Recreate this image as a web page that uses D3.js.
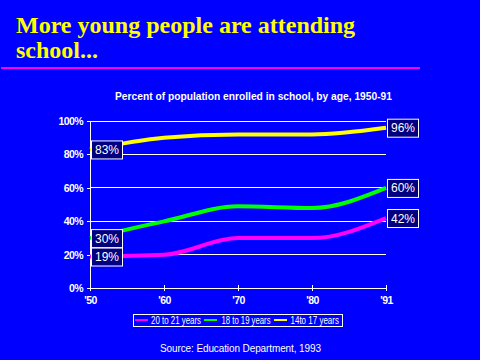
<!DOCTYPE html>
<html><head><meta charset="utf-8">
<script src="https://cdn.jsdelivr.net/npm/d3@7"></script>
<style>html,body{margin:0;padding:0;background:#0000FF;}svg{display:block;}</style>
</head><body>
<svg id="c" width="480" height="360"></svg>
<script>
const years = ["'50", "'60", "'70", "'80", "'91"];
const seriesNames = ["20 to 21 years", "18 to 19 years", "14to 17 years"];
const age20to21 = [19, 20, 30, 30, 42];
const age18to19 = [30, 40, 49, 48, 60];
const age14to17 = [83, 90, 92, 92, 96];
const seriesColors = ["#FF00FF", "#00FF00", "#FFFF00"];
const yTicks = [0, 20, 40, 60, 80, 100];

const series = [age20to21, age18to19, age14to17];
const svg = d3.select("#c");
svg.append("rect").attr("width", 480).attr("height", 360).attr("fill", "#0000FF");

// Title
const title = svg.append("text").attr("fill", "#FFFF00")
  .attr("font-family", "'Liberation Serif','Times New Roman',serif")
  .attr("font-weight", "bold").attr("font-size", 24);
title.append("tspan").attr("x", 16).attr("y", 33).text("More young people are attending");
title.append("tspan").attr("x", 16).attr("y", 58).text("school...");
svg.append("rect").attr("x", 1).attr("y", 67).attr("width", 419).attr("height", 2).attr("fill", "#FF00FF");

// Subtitle
svg.append("text").attr("x", 115).attr("y", 100).attr("fill", "#fff")
  .attr("font-family", "'Liberation Sans',Arial,sans-serif").attr("font-weight", "bold")
  .attr("font-size", 10).attr("textLength", 277).attr("lengthAdjust", "spacingAndGlyphs")
  .text("Percent of population enrolled in school, by age, 1950-91");

const x = d3.scalePoint().domain(years).range([90, 386]);
const y = d3.scaleLinear().domain([0, 100]).range([288.3, 121]);

// gridlines
svg.append("g").selectAll("line").data(yTicks.filter(d => d > 0)).join("line")
  .attr("x1", 90).attr("x2", 386).attr("y1", d => y(d)).attr("y2", d => y(d))
  .attr("stroke", "#fff").attr("stroke-width", 1).attr("shape-rendering", "crispEdges");

// y axis
const yAxis = svg.append("g").attr("transform", "translate(90,0)")
  .call(d3.axisLeft(y).tickValues(yTicks).tickFormat(d => d + "%").tickSize(3).tickPadding(4));
// x axis
const xAxis = svg.append("g").attr("transform", "translate(0,288)")
  .call(d3.axisBottom(x).tickSize(3).tickPadding(6));
[yAxis, xAxis].forEach(a => {
  a.select(".domain").attr("stroke", "#fff").attr("shape-rendering", "crispEdges");
  a.selectAll(".tick line").attr("stroke", "#fff").attr("shape-rendering", "crispEdges");
  a.selectAll("text").attr("fill", "#fff").attr("font-family", "'Liberation Sans',Arial,sans-serif")
    .attr("font-weight", "bold").attr("font-size", 10.5).attr("letter-spacing", -0.6);
});
xAxis.selectAll(".tick").append("line").attr("y1", -3).attr("y2", 0).attr("stroke", "#fff").attr("shape-rendering", "crispEdges");
xAxis.selectAll(".tick text").attr("dy", "0.71em");

// lines
const line = d3.line().x((d, i) => x(years[i])).y(d => y(d)).curve(d3.curveMonotoneX);
series.forEach((s, k) => {
  svg.append("path").attr("d", line(s)).attr("fill", "none")
    .attr("stroke", seriesColors[k]).attr("stroke-width", 4);
});

// value labels
function label(v, side) {
  const bx = side === "left" ? 91 : 387;
  const g = svg.append("g");
  g.append("rect").attr("x", bx + 0.5).attr("y", y(v) - 9 + 0.5).attr("width", 31).attr("height", 18)
    .attr("fill", "#000080").attr("stroke", "#fff").attr("stroke-width", 1);
  g.append("text").attr("x", bx + 16).attr("y", y(v) + 4.5).attr("text-anchor", "middle")
    .attr("fill", "#fff").attr("font-family", "'Liberation Sans',Arial,sans-serif").attr("font-size", 12)
    .text(v + "%");
}
series.forEach(s => { label(s[0], "left"); label(s[s.length - 1], "right"); });

// legend
svg.append("rect").attr("x", 133.5).attr("y", 314.5).attr("width", 209).attr("height", 12)
  .attr("fill", "none").attr("stroke", "#fff").attr("stroke-width", 1);
const legX = [135, 204, 274];
const legTextX = [151, 221.5, 290.5];
const legTextW = [50, 49, 48.5];
seriesNames.forEach((n, k) => {
  svg.append("rect").attr("x", legX[k]).attr("y", 319).attr("width", 13).attr("height", 2).attr("fill", seriesColors[k]);
  svg.append("text").attr("x", legTextX[k]).attr("y", 324).attr("fill", "#fff")
    .attr("font-family", "'Liberation Sans',Arial,sans-serif").attr("font-size", 10)
    .attr("textLength", legTextW[k]).attr("lengthAdjust", "spacingAndGlyphs").text(n);
});

// source
svg.append("text").attr("x", 160).attr("y", 352).attr("fill", "#fff")
  .attr("font-family", "'Liberation Sans',Arial,sans-serif").attr("font-size", 10)
  .attr("textLength", 161).attr("lengthAdjust", "spacing")
  .text("Source: Education Department, 1993");
</script>
</body></html>
